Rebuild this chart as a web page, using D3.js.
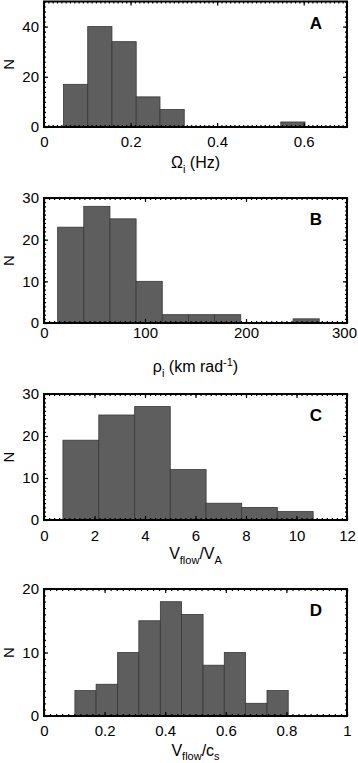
<!DOCTYPE html>
<html>
<head>
<meta charset="utf-8">
<script src="https://cdn.jsdelivr.net/npm/d3@7"></script>
<style>
  body { margin: 0; background: #fff; }
  text { font-family: "Liberation Sans", Arial, sans-serif; }
</style>
</head>
<body>
<div id="chart"></div>
<script>
// ---- data ----
// bin edges and counts per panel
const omegaEdges = [0.045, 0.101, 0.157, 0.213, 0.268, 0.324, 0.380, 0.436, 0.491, 0.547, 0.603];
const omegaCounts = [17, 40, 34, 12, 7, 0, 0, 0, 0, 2];

const rhoEdges = [13.5, 39.4, 65.3, 91.2, 117.1, 143.0, 168.9, 194.8, 220.7, 246.6, 272.5];
const rhoCounts = [23, 28, 25, 10, 2, 2, 2, 0, 0, 1];

const vaEdges = [0.75, 2.17, 3.59, 5.0, 6.42, 7.83, 9.24, 10.66];
const vaCounts = [19, 25, 27, 12, 4, 3, 2];

const csEdges = [0.102, 0.172, 0.243, 0.313, 0.384, 0.454, 0.525, 0.595, 0.665, 0.736, 0.806];
const csCounts = [4, 5, 10, 15, 18, 16, 8, 10, 2, 4];

const omegaTicks = [0, 0.2, 0.4, 0.6];
const rhoTicks = [0, 100, 200, 300];
const vaTicks = [0, 2, 4, 6, 8, 10, 12];
const csTicks = [0, 0.2, 0.4, 0.6, 0.8, 1];

const panels = [
  {letter: "A", edges: omegaEdges, counts: omegaCounts, xdom: [0, 0.7], ymax: 50,
   xticks: omegaTicks, xminor: 0.01, yticks: [0, 20, 40], yminor: 2,
   top: 1.5, bottom: 127, labPad: 9, titleY: 168, fmt: d => d === 0 ? "0" : d3.format(".1f")(d)},
  {letter: "B", edges: rhoEdges, counts: rhoCounts, xdom: [0, 300], ymax: 30,
   xticks: rhoTicks, xminor: 5, yticks: [0, 10, 20, 30], yminor: 1,
   top: 198, bottom: 323, labPad: 4, titleY: 372, fmt: d3.format("d")},
  {letter: "C", edges: vaEdges, counts: vaCounts, xdom: [0, 12], ymax: 30,
   xticks: vaTicks, xminor: 0.2, yticks: [0, 10, 20, 30], yminor: 1,
   top: 394, bottom: 520, labPad: 10, titleY: 559, fmt: d3.format("d")},
  {letter: "D", edges: csEdges, counts: csCounts, xdom: [0, 1], ymax: 20,
   xticks: csTicks, xminor: 0.02, yticks: [0, 10, 20], yminor: 1,
   top: 589, bottom: 716, labPad: 9, titleY: 756, fmt: d => (d === 0 || d === 1) ? String(d) : d3.format(".1f")(d)}
];

const W = 358, H = 763;
const left = 44, right = 347;

const svg = d3.select("#chart").append("svg")
  .attr("width", W)
  .attr("height", H);

function minorValues(dom, step) {
  const out = [];
  const n = Math.round((dom[1] - dom[0]) / step);
  for (let i = 0; i <= n; i++) out.push(dom[0] + i * step);
  return out;
}

panels.forEach(function(p) {
  const x = d3.scaleLinear().domain(p.xdom).range([left, right]);
  const y = d3.scaleLinear().domain([0, p.ymax]).range([p.bottom, p.top]);

  const g = svg.append("g");

  const bins = p.counts.map((c, i) => ({x0: p.edges[i], x1: p.edges[i + 1], n: c}));

  g.selectAll("rect.bar")
    .data(bins.filter(d => d.n > 0))
    .enter().append("rect")
    .attr("class", "bar")
    .attr("x", d => x(d.x0))
    .attr("width", d => x(d.x1) - x(d.x0))
    .attr("y", d => y(d.n))
    .attr("height", d => y(0) - y(d.n))
    .attr("fill", "#5e5e5e")
    .attr("stroke", "#383838")
    .attr("stroke-width", 0.8);

  const xMinor = minorValues(p.xdom, p.xminor);
  const yMinor = minorValues([0, p.ymax], p.yminor);

  // bottom
  g.append("g").attr("transform", `translate(0,${p.bottom})`)
    .call(d3.axisBottom(x).tickValues(xMinor).tickSize(-2).tickFormat(""));
  g.append("g").attr("class", "xlab").attr("transform", `translate(0,${p.bottom})`)
    .call(d3.axisBottom(x).tickValues(p.xticks).tickSize(-4).tickPadding(p.labPad).tickFormat(p.fmt));
  // top
  g.append("g").attr("transform", `translate(0,${p.top})`)
    .call(d3.axisBottom(x).tickValues(xMinor).tickSize(2).tickFormat(""));
  g.append("g").attr("transform", `translate(0,${p.top})`)
    .call(d3.axisBottom(x).tickValues(p.xticks).tickSize(4).tickFormat(""));
  // left
  g.append("g").attr("transform", `translate(${left},0)`)
    .call(d3.axisLeft(y).tickValues(yMinor).tickSize(-2).tickFormat(""));
  g.append("g").attr("transform", `translate(${left},0)`)
    .call(d3.axisLeft(y).tickValues(p.yticks).tickSize(-4).tickPadding(5).tickFormat(d3.format("d")));
  // right
  g.append("g").attr("transform", `translate(${right},0)`)
    .call(d3.axisLeft(y).tickValues(yMinor).tickSize(2).tickFormat(""));
  g.append("g").attr("transform", `translate(${right},0)`)
    .call(d3.axisLeft(y).tickValues(p.yticks).tickSize(4).tickFormat(""));

  g.selectAll(".domain").remove();
  g.selectAll(".tick line").attr("stroke", "#000").attr("stroke-width", 1.2);
  g.selectAll(".tick text")
    .attr("fill", "#000")
    .style("font-size", "15px")
    .style("font-family", "'Liberation Sans', Arial, sans-serif");

  // keep the last x label inside the page
  g.selectAll(".xlab .tick text").each(function() {
    const b = this.getBoundingClientRect();
    if (b.right > W - 1) d3.select(this).attr("dx", -(b.right - (W - 1)));
  });

  // frame
  g.append("rect")
    .attr("x", left).attr("y", p.top)
    .attr("width", right - left).attr("height", p.bottom - p.top)
    .attr("fill", "none").attr("stroke", "#000").attr("stroke-width", 2);

  // panel letter
  g.append("text")
    .attr("x", 322).attr("y", p.top + 27)
    .attr("text-anchor", "end")
    .style("font-size", "17px").style("font-weight", "bold")
    .text(p.letter);

  // y label
  g.append("text")
    .attr("transform", `translate(14,${(p.top + p.bottom) / 2}) rotate(-90)`)
    .attr("text-anchor", "middle")
    .style("font-size", "15px")
    .text("N");

  p.title = g.append("text")
    .attr("x", (left + right) / 2).attr("y", p.titleY)
    .attr("text-anchor", "middle")
    .style("font-size", "16px");
});

// axis titles with sub/superscripts
let t = panels[0].title;
t.append("tspan").text("\u03A9");
t.append("tspan").attr("dy", 5).style("font-size", "11px").text("i");
t.append("tspan").attr("dy", -5).text(" (Hz)");

t = panels[1].title;
t.append("tspan").text("\u03C1");
t.append("tspan").attr("dy", 5).style("font-size", "11px").text("i");
t.append("tspan").attr("dy", -5).text(" (km rad");
t.append("tspan").attr("dy", -6).style("font-size", "11px").text("-1");
t.append("tspan").attr("dy", 6).text(")");

t = panels[2].title;
t.append("tspan").text("V");
t.append("tspan").attr("dy", 5).style("font-size", "11px").text("flow");
t.append("tspan").attr("dy", -5).text("/V");
t.append("tspan").attr("dy", 5).style("font-size", "11px").text("A");

t = panels[3].title;
t.append("tspan").text("V");
t.append("tspan").attr("dy", 4).style("font-size", "11px").text("flow");
t.append("tspan").attr("dy", -4).text("/c");
t.append("tspan").attr("dy", 4).style("font-size", "11px").text("s");
</script>
</body>
</html>
